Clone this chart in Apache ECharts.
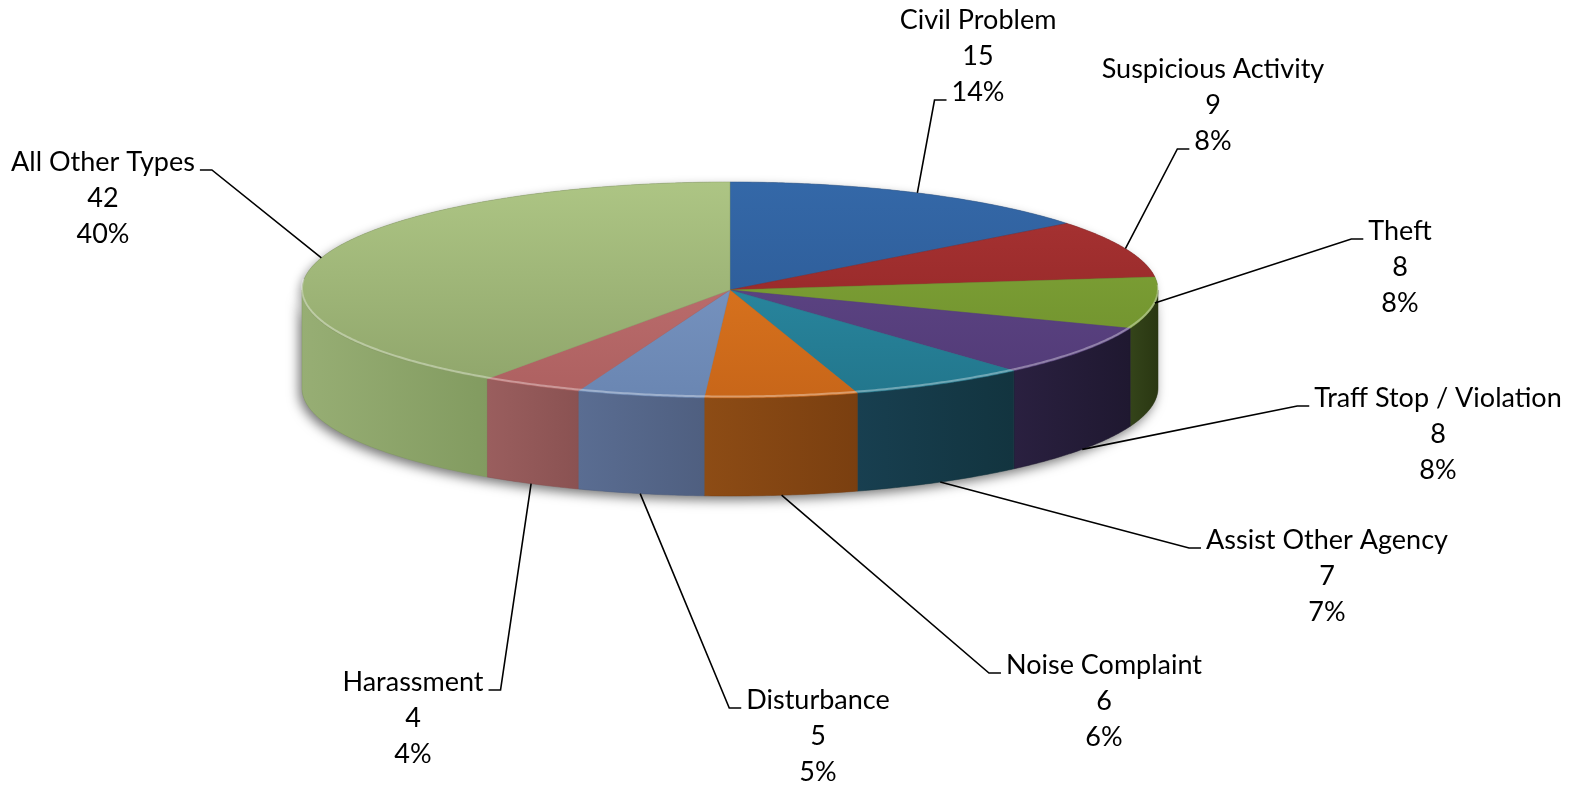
<!DOCTYPE html>
<html>
<head>
<meta charset="utf-8">
<script src="https://cdn.jsdelivr.net/npm/echarts@6/dist/echarts.min.js"></script>
<style>
	html, body { margin: 0; padding: 0; background: #fff; }
	#plot { width: 1576px; height: 788px; }
</style>
</head>
<body>
<div id="plot"></div>
<script>
// values, clockwise from 12 o'clock
const categories = ['Civil Problem', 'Suspicious Activity', 'Theft', 'Traff Stop / Violation',
	'Assist Other Agency', 'Noise Complaint', 'Disturbance', 'Harassment', 'All Other Types'];
const counts = [15, 9, 8, 8, 7, 6, 5, 4, 42];
const percentLabels = ['14%', '8%', '8%', '8%', '7%', '6%', '5%', '4%', '40%'];

// styling (Excel 2007 palette with its 3D shading)
const topColors = [
	['#3468a8', '#2a568f'], ['#aa3434', '#8c2323'], ['#84a83a', '#6c8d2b'],
	['#634a8c', '#513a76'], ['#2e93ad', '#22768c'], ['#e47c21', '#c86619'],
	['#7f9cc9', '#6a86b2'], ['#c57676', '#ad6060'], ['#adc584', '#8ea46a']
];
const wallColors = [
	['#2a568f', '#22487a'], ['#8c2323', '#751c1c'], ['#34441a', '#2a3712'],
	['#2a2040', '#1f1830'], ['#183f50', '#12343f'], ['#8d4c15', '#7a3f10'],
	['#5a6d92', '#4f5f80'], ['#9a5e5e', '#8a5252'], ['#97ae74', '#829b60']
];

// label layout: block centre and which line / side the leader line attaches to
const labelCenters = [[978, 56], [1213, 105], [1400, 267], [1438, 434], [1327, 576],
	[1104, 701], [818, 736], [413, 718], [103, 198]];
const labelAttach = [[2, 'left'], [2, 'left'], [0, 'left'], [0, 'left'], [0, 'left'],
	[0, 'left'], [0, 'left'], [0, 'right'], [0, 'right']];

const FONT = '27px Lato';
const LINE_H = 36;
const cx = 730, cy = 290, rx = 428, ry = 108, depth = 98;

const total = counts.reduce((a, b) => a + b, 0);
const startAngles = [];
counts.reduce((acc, v) => { startAngles.push(acc / total * 360); return acc + v; }, 0);

const measureCtx = document.createElement('canvas').getContext('2d');
measureCtx.font = FONT;

function pt(deg, dy) {
	const r = deg * Math.PI / 180;
	return [cx + rx * Math.sin(r), cy - ry * Math.cos(r) + (dy || 0)];
}

function arc(a0, a1, dy) {
	const steps = Math.max(2, Math.ceil((a1 - a0) / 0.5));
	const pts = [];
	for (let k = 0; k <= steps; k++) {
		pts.push(pt(a0 + (a1 - a0) * k / steps, dy));
	}
	return pts;
}

function renderSlice(params, api) {
	const i = params.dataIndex;
	const value = api.value(0);
	const a0 = startAngles[i];
	const a1 = a0 + value / total * 360;
	const children = [];

	if (i === 0) {
		// soft shadow under the whole pie
		const silhouette = arc(0, 360, 0).concat([]);
		children.push({
			type: 'polygon',
			z2: 0,
			shape: { points: arc(90, 270, 0).concat(arc(90, 270, depth).reverse()) },
			style: { fill: '#888', shadowBlur: 12, shadowColor: 'rgba(0,0,0,0.55)', shadowOffsetX: -3, shadowOffsetY: 4 }
		});
		children.push({
			type: 'polygon',
			z2: 0,
			shape: { points: silhouette },
			style: { fill: '#888', shadowBlur: 10, shadowColor: 'rgba(0,0,0,0.35)', shadowOffsetX: -3, shadowOffsetY: 3 }
		});
	}

	// front wall
	if (a1 > 90 && a0 < 270) {
		const w0 = Math.max(a0, 90), w1 = Math.min(a1, 270);
		children.push({
			type: 'polygon',
			z2: 1,
			shape: { points: arc(w0, w1, 0).concat(arc(w0, w1, depth).reverse()) },
			style: {
				fill: new echarts.graphic.LinearGradient(0, 0, 1, 0, [
					{ offset: 0, color: wallColors[i][0] },
					{ offset: 1, color: wallColors[i][1] }
				]),
				stroke: wallColors[i][1],
				lineWidth: 0.5
			}
		});
	}

	// top face
	children.push({
		type: 'polygon',
		z2: 2,
		shape: { points: [[cx, cy]].concat(arc(a0, a1, 0)) },
		style: {
			fill: new echarts.graphic.LinearGradient(0, cy - ry, 0, cy + ry, [
				{ offset: 0, color: topColors[i][0] },
				{ offset: 1, color: topColors[i][1] }
			], true),
			stroke: topColors[i][1],
			lineWidth: 0.5
		}
	});

	// bevel highlight on the front rim
	const h0 = Math.max(a0, 88), h1 = Math.min(a1, 275);
	if (h1 > h0) {
		children.push({
			type: 'polyline',
			z2: 3,
			shape: { points: arc(h0, h1, -1.5) },
			style: { stroke: 'rgba(255,255,255,0.35)', lineWidth: 2, fill: null }
		});
	}

	// leader line
	const mid = (a0 + a1) / 2;
	const anchor = (mid > 100 && mid < 260) ? pt(mid, depth) : pt(mid, 0);
	const [lx, ly] = labelCenters[i];
	const lines = [categories[i], String(value), percentLabels[i]];
	const [lineIdx, side] = labelAttach[i];
	const w = measureCtx.measureText(lines[lineIdx]).width;
	const tickY = ly + (lineIdx - 1) * LINE_H + 8;
	let tickEnd, elbow;
	if (side === 'left') {
		tickEnd = [lx - w / 2 - 5, tickY];
		elbow = [tickEnd[0] - 12, tickY];
	} else {
		tickEnd = [lx + w / 2 + 5, tickY];
		elbow = [tickEnd[0] + 12, tickY];
	}
	children.push({
		type: 'polyline',
		z2: 4,
		shape: { points: [anchor, elbow, tickEnd] },
		style: { stroke: '#000', lineWidth: 1.6, fill: null }
	});

	children.push({
		type: 'text',
		z2: 5,
		x: lx,
		y: ly,
		style: {
			text: lines.join('\n'),
			font: FONT,
			lineHeight: LINE_H,
			align: 'center',
			verticalAlign: 'middle',
			fill: '#000'
		}
	});

	return { type: 'group', children: children };
}

function plot() {
	const box = document.getElementById('plot');
	const chart = echarts.init(box);
	chart.setOption({
		animation: false,
		backgroundColor: '#fff',
		series: [
			{
				type: 'custom',
				coordinateSystem: 'none',
				silent: true,
				renderItem: renderSlice,
				data: counts.map((v, i) => ({ name: categories[i], value: [v, i] }))
			}
		]
	});
	window.addEventListener('resize', () => {
		chart.resize();
	});
}

window.addEventListener('load', () => {
	plot();
});
</script>
</body>
</html>
